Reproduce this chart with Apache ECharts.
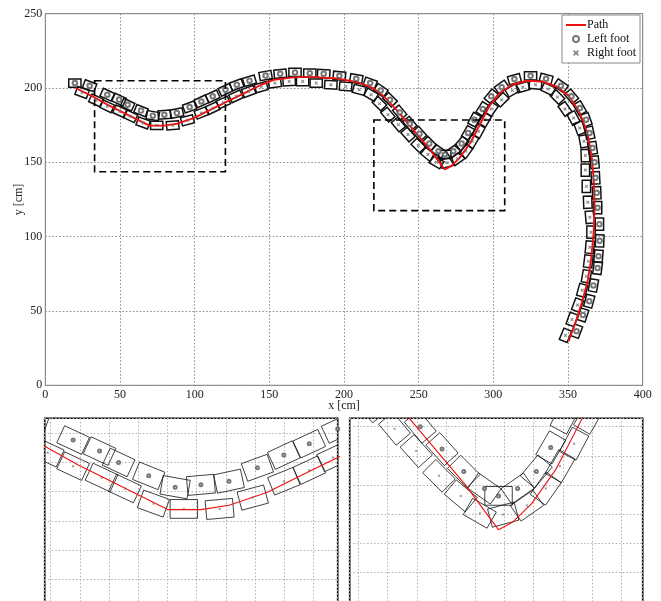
<!DOCTYPE html>
<html><head><meta charset="utf-8">
<script src="https://cdn.jsdelivr.net/npm/echarts@6/dist/echarts.min.js"></script>
<style>html,body{margin:0;padding:0;background:#fff}#c{width:661px;height:601px}</style>
</head><body><div id="c"></div><script>
// ---------------- data ----------------
const xTickStep = 50;
const yTickStep = 50;
const pathPoints = [
  [20.3,200.0],[31.6,194.4],[42.9,188.1],[54.2,182.5],[69.8,174.7],[79.7,174.7],[88.1,176.0],
  [99.4,179.8],[110.7,185.4],[122.0,191.0],[133.3,196.6],[144.6,202.2],[153.0,205.5],[167.2,207.3],
  [181.4,207.3],[195.5,206.4],[209.6,203.8],[219.5,200.0],[226.6,194.4],[235.0,185.4],[246.3,172.0],
  [257.6,158.6],[263.3,150.8],[267.5,145.2],[271.8,147.5],[277.4,153.0],[284.5,163.0],[291.5,176.5],
  [297.2,187.7],[304.2,196.6],[312.7,202.2],[322.6,204.9],[332.5,204.4],[342.4,201.0],[350.8,194.4],
  [357.9,183.2],[363.0,169.8],[365.8,154.2],[367.2,138.5],[367.8,120.6],[367.2,102.8],[365.5,84.9],
  [363.0,69.3],[359.3,55.9],[355.1,42.4],[350.3,29.5]
];
// [x, y, heading in degrees]
const leftFoot = [
  [19.8,203.3,0],[29.7,201.5,-20],[41.5,195.5,-25],[49.4,192.2,-25],[55.1,188.8,-25],[64.1,184.8,-22],
  [72.0,181.4,-10],[79.7,182.1,5],[88.1,183.2,12],[96.6,187.2,20],[104.5,191.0,25],[112.1,194.4,25],
  [120.6,198.8,25],[128.2,202.2,20],[136.7,204.9,17],[147.5,208.4,10],[157.3,209.6,5],[167.2,210.5,0],
  [177.1,210.0,0],[186.4,209.6,-3],[196.9,208.2,-5],[208.2,206.2,-10],[217.5,203.3,-20],[224.6,198.4,-35],
  [230.8,192.1,-45],[237.3,183.6,-50],[244.1,176.0,-50],[250.6,169.3,-48],[257.1,162.6,-45],[263.3,157.5,-35],
  [267.5,155.3,0],[273.2,157.5,35],[278.8,162.6,50],[283.1,169.8,60],[287.3,178.7,62],[292.9,185.9,58],
  [298.6,194.4,50],[305.6,200.6,35],[314.1,206.0,15],[324.9,208.2,0],[335.3,206.2,-15],[345.2,201.5,-35],
  [352.3,194.4,-50],[357.9,186.5,-60],[362.1,178.7,-70],[364.4,169.8,-78],[366.4,159.7,-82],[367.8,150.1,-85],
  [368.4,139.6,-87],[369.2,129.5,-88],[369.8,119.5,-90],[371.0,108.4,-90],[371.2,97.2,-92],[370.4,86.9,-95],
  [369.8,78.9,-97],[367.0,67.2,-100],[364.2,56.6,-105],[360.0,47.3,-108],[355.7,36.4,-110]
];
const rightFoot = [
  [24.6,197.0,-20],[33.9,191.7,-25],[41.5,187.7,-25],[50.0,184.3,-25],[57.0,181.0,-25],[65.5,176.5,-20],
  [74.6,174.9,0],[85.3,174.9,5],[95.2,178.3,15],[104.5,183.2,22],[112.1,186.5,25],[119.2,190.3,25],
  [127.7,194.4,25],[136.2,197.7,20],[144.6,200.6,15],[153.7,203.3,8],[163.3,204.4,3],[172.3,204.4,0],
  [181.4,203.3,0],[191.2,202.2,-3],[201.1,201.1,-5],[210.2,198.8,-15],[218.1,195.5,-30],[223.7,189.5,-45],
  [229.4,182.1,-50],[236.4,175.4,-50],[242.9,168.7,-48],[249.7,161.3,-45],[256.2,155.3,-40],[261.9,150.1,-30],
  [268.9,149.7,15],[276.0,152.4,35],[281.6,157.5,55],[285.9,164.2,60],[290.1,170.9,62],[294.4,178.7,60],
  [298.6,185.9,55],[305.6,192.1,45],[312.7,198.4,30],[319.8,200.6,15],[328.2,202.2,-5],[336.7,199.3,-25],
  [342.9,193.9,-45],[348.0,185.9,-55],[353.7,179.8,-62],[357.9,173.1,-70],[360.7,164.2,-80],[361.6,154.6,-88],
  [361.6,144.8,-90],[362.3,133.8,-90],[363.2,123.2,-88],[364.6,113.1,-85],[365.4,103.0,-90],[364.6,92.9,-95],
  [363.6,83.4,-97],[362.3,73.3,-100],[359.5,63.9,-105],[356.4,54.0,-110],[352.7,44.3,-110],[348.3,33.6,-112]
];
// dashed zoom regions in the main plot [xMin, xMax, yMin, yMax]
const zoomBoxes = [[33.0,120.6,143.7,204.9],[220.0,307.6,117.5,178.5]];
// windows shown in the two enlarged panels [xMin, xMax, yMin, yMax]
const insetWindows = [[33.0,120.6,140.8,202.0],[223.0,310.6,117.5,178.5]];

// ---------------- drawing ----------------
const FOOT_LEN = 8.2, FOOT_WID = 5.6;
const FONT = "'Liberation Serif','Times New Roman',serif";
const XSYM = 'path://M0,2L2,0L5,3L8,0L10,2L7,5L10,8L8,10L5,7L2,10L0,8L3,5Z';
const corners = [[1,1],[-1,1],[-1,-1],[1,-1]].map(([u,v]) => [u*FOOT_LEN/2, v*FOOT_WID/2]);

function footRender(lw) {
  return function (params, api) {
    const cx = api.value(0), cy = api.value(1), a = api.value(2) * Math.PI / 180;
    const c = Math.cos(a), s = Math.sin(a);
    const pts = corners.map(([u, v]) => api.coord([cx + u*c - v*s, cy + u*s + v*c]));
    return { type: 'polygon', shape: { points: pts }, style: { fill: 'none', stroke: '#111', lineWidth: lw } };
  };
}
function rectRender(params, api) {
  const p0 = api.coord([api.value(0), api.value(2)]);
  const p1 = api.coord([api.value(1), api.value(3)]);
  return { type: 'rect', shape: { x: Math.min(p0[0],p1[0]), y: Math.min(p0[1],p1[1]),
      width: Math.abs(p1[0]-p0[0]), height: Math.abs(p1[1]-p0[1]) },
    style: { fill: 'none', stroke: '#000', lineWidth: 1.6, lineDash: [7, 4] } };
}

const panels = [
  { xi: 0, yi: 0, main: true },
  { xi: 1, yi: 1, main: false },
  { xi: 3, yi: 3, main: false }
];
const series = [];
panels.forEach(p => {
  const lw = p.main ? 1.5 : 0.8;
  series.push({ type: 'custom', xAxisIndex: p.xi, yAxisIndex: p.yi, renderItem: footRender(lw),
    data: leftFoot, clip: true, silent: true, z: 2 });
  series.push({ type: 'custom', xAxisIndex: p.xi, yAxisIndex: p.yi, renderItem: footRender(lw),
    data: rightFoot, clip: true, silent: true, z: 2 });
  series.push({ name: 'Path', type: 'line', xAxisIndex: p.xi, yAxisIndex: p.yi, data: pathPoints,
    symbol: 'none', showSymbol: false, clip: true, z: 3, silent: true,
    lineStyle: { color: '#ee1111', width: p.main ? 1.9 : 1.1 }, itemStyle: { color: '#ee1111' } });
  series.push({ name: 'Left foot', type: 'scatter', xAxisIndex: p.xi, yAxisIndex: p.yi, data: leftFoot,
    symbol: 'emptyCircle', symbolSize: p.main ? 4.5 : 3, clip: true, z: 4, silent: true,
    itemStyle: { color: '#555', borderColor: '#555', borderWidth: p.main ? 0.8 : 0.6 } });
  series.push({ name: 'Right foot', type: 'scatter', xAxisIndex: p.xi, yAxisIndex: p.yi, data: rightFoot,
    symbol: XSYM, symbolSize: p.main ? 3.5 : 2.5, clip: true, z: 4, silent: true,
    itemStyle: { color: '#666' } });
});
series.push({ type: 'custom', xAxisIndex: 0, yAxisIndex: 0, renderItem: rectRender, data: zoomBoxes,
  encode: { x: [0, 1], y: [2, 3] }, silent: true, z: 5 });

const dotted = { show: true, lineStyle: { type: [1.5, 2], color: '#8a8a8a', width: 1 } };
const dottedLight = { show: true, lineStyle: { type: [1.5, 2], color: '#b0b0b0', width: 1 } };
const hidden = { axisLine: { show: false }, axisTick: { show: false }, axisLabel: { show: false } };

const option = {
  animation: false,
  backgroundColor: '#fff',
  textStyle: { fontFamily: FONT },
  grid: [
    { left: 45.3, top: 13.7, width: 597.4, height: 371.6, show: true, borderColor: '#7a7a7a', borderWidth: 1,
      backgroundColor: 'transparent', containLabel: false, outerBoundsMode: 'none' },
    { left: 44.7, top: 418.3, width: 293, height: 204.7, show: true, borderColor: '#000', borderWidth: 1.6,
      backgroundColor: 'transparent', containLabel: false, outerBoundsMode: 'none' },
    { left: 349.7, top: 418.3, width: 293, height: 204, show: true, borderColor: '#000', borderWidth: 1.6,
      backgroundColor: 'transparent', containLabel: false, outerBoundsMode: 'none' }
  ],
  xAxis: [
    { type: 'value', gridIndex: 0, min: 0, max: 400, interval: xTickStep, splitLine: dotted,
      axisLine: { show: false }, axisTick: { show: false },
      axisLabel: { fontFamily: FONT, fontSize: 12, color: '#222', margin: 4 },
      name: 'x [cm]', nameLocation: 'middle', nameGap: 15, nameMoveOverlap: false,
      nameTextStyle: { fontFamily: FONT, fontSize: 12, color: '#222' } },
    { type: 'value', gridIndex: 1, min: insetWindows[0][0], max: insetWindows[0][1], show: false },
    { type: 'value', gridIndex: 1, min: -0.205, max: 9.83, minInterval: 1, maxInterval: 1, splitNumber: 10, splitLine: dottedLight, ...hidden },
    { type: 'value', gridIndex: 2, min: insetWindows[1][0], max: insetWindows[1][1], show: false },
    { type: 'value', gridIndex: 2, min: -0.30, max: 9.73, minInterval: 1, maxInterval: 1, splitNumber: 10, splitLine: dottedLight, ...hidden }
  ],
  yAxis: [
    { type: 'value', gridIndex: 0, min: 0, max: 250, interval: yTickStep, splitLine: dotted,
      axisLine: { show: false }, axisTick: { show: false },
      axisLabel: { fontFamily: FONT, fontSize: 12, color: '#222', margin: 3 },
      name: 'y [cm]', nameLocation: 'middle', nameGap: 20, nameMoveOverlap: false,
      nameTextStyle: { fontFamily: FONT, fontSize: 12, color: '#222' } },
    { type: 'value', gridIndex: 1, min: insetWindows[0][2], max: insetWindows[0][3], show: false },
    { type: 'value', gridIndex: 1, inverse: true, min: -0.514, max: 6.496, minInterval: 1, maxInterval: 1, splitNumber: 7, splitLine: dottedLight, ...hidden },
    { type: 'value', gridIndex: 2, min: insetWindows[1][2], max: insetWindows[1][3], show: false },
    { type: 'value', gridIndex: 2, inverse: true, min: -0.288, max: 6.70, minInterval: 1, maxInterval: 1, splitNumber: 7, splitLine: dottedLight, ...hidden }
  ],
  legend: {
    orient: 'vertical', right: 21, top: 15, padding: [4, 4, 4, 3],
    backgroundColor: '#fff', borderColor: '#888', borderWidth: 1,
    itemWidth: 20, itemHeight: 6, itemGap: 2, selectedMode: false,
    textStyle: { fontFamily: FONT, fontSize: 12, color: '#111', lineHeight: 12, padding: [0, 0, 0, -4] },
    data: [
      { name: 'Path', itemStyle: { opacity: 0 } },
      { name: 'Left foot', icon: 'emptyCircle' },
      { name: 'Right foot', icon: XSYM }
    ]
  },
  series: series
};
const chart = echarts.init(document.getElementById('c'), null, { renderer: 'canvas' });
chart.setOption(option);
</script></body></html>
